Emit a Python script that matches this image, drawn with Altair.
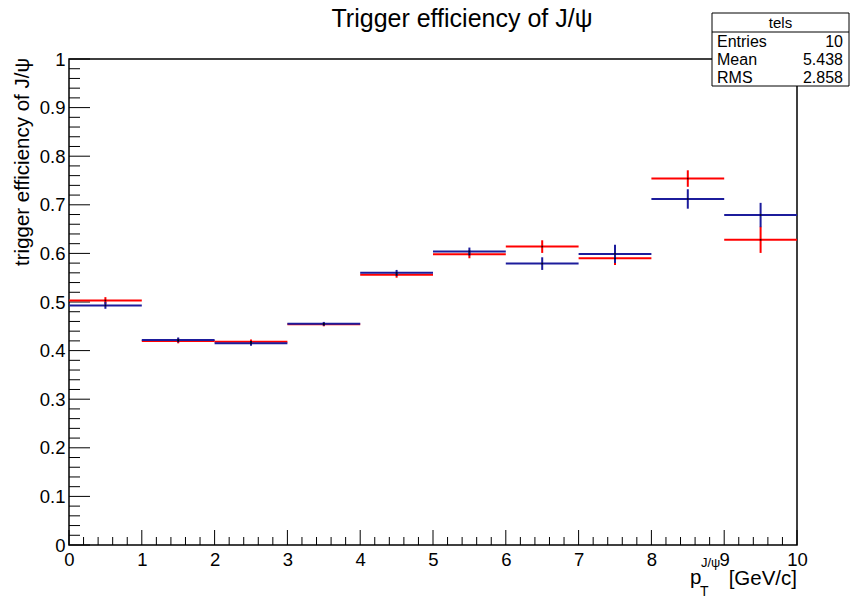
import altair as alt
import pandas as pd

# ---- data ----
bin_lo = [0, 1, 2, 3, 4, 5, 6, 7, 8, 9]
bin_hi = [1, 2, 3, 4, 5, 6, 7, 8, 9, 10]
red_eff = [0.503, 0.420, 0.418, 0.454, 0.556, 0.598, 0.614, 0.590, 0.754, 0.628]
red_err = [0.007, 0.005, 0.005, 0.004, 0.006, 0.008, 0.013, 0.014, 0.017, 0.027]
blue_eff = [0.493, 0.422, 0.415, 0.455, 0.560, 0.604, 0.579, 0.599, 0.712, 0.679]
blue_err = [0.007, 0.005, 0.005, 0.004, 0.006, 0.008, 0.013, 0.019, 0.020, 0.025]

x_major = [0, 1, 2, 3, 4, 5, 6, 7, 8, 9, 10]
x_minor = [i / 5 for i in range(0, 51) if i % 5 != 0]
y_major = [i / 10 for i in range(0, 11)]
y_minor = [i / 50 for i in range(0, 51) if i % 5 != 0]

stat_labels = ["Entries", "Mean", "RMS"]
stat_values = ["10", "5.438", "2.858"]

FONT = "Liberation Sans"
W, H = 728, 486
L, T = 69, 59

rows = []
for name, eff, err in (("red", red_eff, red_err), ("blue", blue_eff, blue_err)):
    for lo, hi, e, d in zip(bin_lo, bin_hi, eff, err):
        rows.append({"series": name, "lo": lo, "hi": hi, "c": (lo + hi) / 2,
                     "eff": e, "elo": e - d, "ehi": e + d})
df = pd.DataFrame(rows)

xs = alt.Scale(domain=[0, 10], nice=False, zero=False)
ys = alt.Scale(domain=[0, 1], nice=False, zero=False)
color = alt.Scale(domain=["red", "blue"], range=["#ff0000", "#1c1c9c"])

base = alt.Chart(df)

axes = alt.Chart(pd.DataFrame({"x": [0], "y": [0]})).mark_point(opacity=0).encode(
    x=alt.X("x:Q", scale=xs, title=None,
            axis=alt.Axis(values=x_major, ticks=False, domain=False, grid=False,
                          labelFont=FONT, labelFontSize=18.5, labelColor="black",
                          labelPadding=5, format="~g", labelFlush=False)),
    y=alt.Y("y:Q", scale=ys, title=None,
            axis=alt.Axis(values=y_major, ticks=False, domain=False, grid=False,
                          labelFont=FONT, labelFontSize=18.5, labelColor="black",
                          labelPadding=4, format="~g", labelFlush=False)),
)

def xticks(vals, length):
    return alt.Chart(pd.DataFrame({"v": vals})).mark_rule(color="black", strokeWidth=1).encode(
        x=alt.X("v:Q", scale=xs), y=alt.value(H), y2=alt.value(H - length))

def yticks(vals, length):
    return alt.Chart(pd.DataFrame({"v": vals})).mark_rule(color="black", strokeWidth=1).encode(
        y=alt.Y("v:Q", scale=ys), x=alt.value(0), x2=alt.value(length))

layers = [axes, xticks(x_major, 15), xticks(x_minor, 8), yticks(y_major, 21), yticks(y_minor, 11)]

for name in ["red", "blue"]:
    sub = base.transform_filter(alt.datum.series == name)
    layers.append(sub.mark_rule(strokeWidth=2).encode(
        x=alt.X("lo:Q", scale=xs), x2="hi:Q", y=alt.Y("eff:Q", scale=ys),
        color=alt.Color("series:N", scale=color, legend=None)))
    layers.append(sub.mark_rule(strokeWidth=2).encode(
        x=alt.X("c:Q", scale=xs), y=alt.Y("elo:Q", scale=ys), y2="ehi:Q",
        color=alt.Color("series:N", scale=color, legend=None)))
# small dark marker at each point centre
layers.append(base.mark_square(size=3, color="black", opacity=0.8).encode(
    x=alt.X("c:Q", scale=xs), y=alt.Y("eff:Q", scale=ys)))

# title
layers.append(alt.Chart(pd.DataFrame({"t": ["Trigger efficiency of J/\u03c8"]})).mark_text(
    font=FONT, fontSize=25, align="center", baseline="alphabetic", color="black").encode(
    text="t:N", x=alt.value(462 - L), y=alt.value(27 - T)))

# y-axis title
layers.append(alt.Chart(pd.DataFrame({"t": ["trigger efficiency of J/\u03c8"]})).mark_text(
    font=FONT, fontSize=20.5, align="right", baseline="alphabetic", angle=270, color="black").encode(
    text="t:N", x=alt.value(29 - L), y=alt.value(58 - T)))

# x-axis title pieces
xt = pd.DataFrame({"t": ["p", "T", "J/\u03c8", "[GeV/c]"],
                   "px": [690, 700, 701, 797], "py": [584, 596, 567, 585],
                   "fs": [20.5, 14, 13, 20.5], "al": ["left", "left", "left", "right"]})
for _, r in xt.iterrows():
    layers.append(alt.Chart(pd.DataFrame({"t": [r.t]})).mark_text(
        font=FONT, fontSize=float(r.fs), align=r.al, baseline="alphabetic", color="black").encode(
        text="t:N", x=alt.value(int(r.px) - L), y=alt.value(int(r.py) - T)))

# stats box
bx0, bx1, by0, by1 = 712 - L, 849 - L, 13 - T, 86 - T
layers.append(alt.Chart(pd.DataFrame({"a": [0]})).mark_rect(
    fill="white", stroke="black", strokeWidth=1).encode(
    x=alt.value(bx0), x2=alt.value(bx1), y=alt.value(by0), y2=alt.value(by1)))
layers.append(alt.Chart(pd.DataFrame({"a": [0]})).mark_rule(color="black", strokeWidth=1).encode(
    x=alt.value(bx0), x2=alt.value(bx1), y=alt.value(32 - T)))
layers.append(alt.Chart(pd.DataFrame({"t": ["tels"]})).mark_text(
    font=FONT, fontSize=15, align="center", baseline="alphabetic", color="black").encode(
    text="t:N", x=alt.value((bx0 + bx1) / 2), y=alt.value(28 - T)))
sdf = pd.DataFrame({"lab": stat_labels, "val": stat_values, "py": [47 - T, 65 - T, 83 - T]})
layers.append(alt.Chart(sdf).mark_text(
    font=FONT, fontSize=16, align="left", baseline="alphabetic", color="black").encode(
    text="lab:N", x=alt.value(717 - L), y=alt.Y("py:Q", scale=None)))
layers.append(alt.Chart(sdf).mark_text(
    font=FONT, fontSize=16, align="right", baseline="alphabetic", color="black").encode(
    text="val:N", x=alt.value(843 - L), y=alt.Y("py:Q", scale=None)))

chart = alt.layer(*layers).properties(
    width=W, height=H,
    autosize=alt.AutoSizeParams(type="none"),
    padding={"left": L, "top": T, "right": 850 - L - W, "bottom": 599 - T - H},
    background="white",
).configure_view(stroke="black", strokeWidth=1.5)

chart.save("out.html", embed_options={"renderer": "svg", "actions": False})
